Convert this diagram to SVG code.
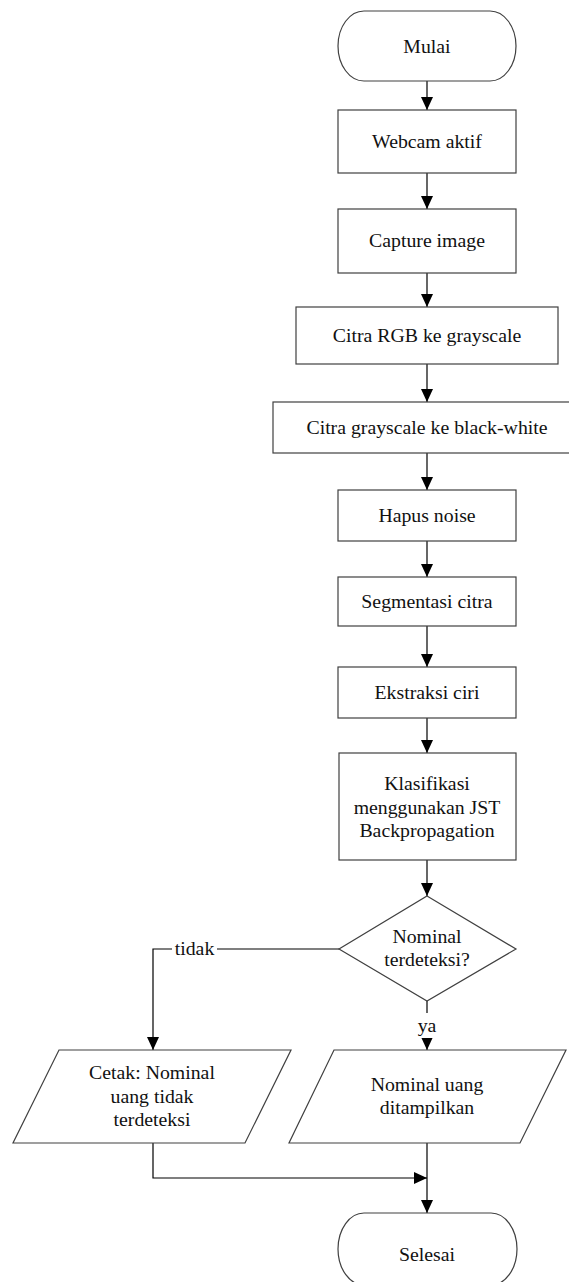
<svg xmlns="http://www.w3.org/2000/svg" width="569" height="1282" viewBox="0 0 569 1282">
<style>
.shape{fill:#fff;stroke:#404040;stroke-width:1.2}
.line{fill:none;stroke:#000;stroke-width:1.2}
text{font-family:"Liberation Serif","Times New Roman",serif;font-size:19.8px;fill:#111;text-anchor:middle}
</style>
<defs>
<marker id="ah" markerUnits="userSpaceOnUse" markerWidth="13" markerHeight="12" refX="13" refY="6" orient="auto">
<path d="M0,0 L13,6 L0,12 z" fill="#000"/>
</marker>
</defs>
<g id="connectors">
<line class="line" x1="427" y1="81" x2="427" y2="110" marker-end="url(#ah)"/>
<line class="line" x1="427" y1="173" x2="427" y2="209" marker-end="url(#ah)"/>
<line class="line" x1="427" y1="273" x2="427" y2="307" marker-end="url(#ah)"/>
<line class="line" x1="427" y1="364" x2="427" y2="402" marker-end="url(#ah)"/>
<line class="line" x1="427" y1="453" x2="427" y2="490" marker-end="url(#ah)"/>
<line class="line" x1="427" y1="541" x2="427" y2="577" marker-end="url(#ah)"/>
<line class="line" x1="427" y1="626" x2="427" y2="667" marker-end="url(#ah)"/>
<line class="line" x1="427" y1="718" x2="427" y2="753" marker-end="url(#ah)"/>
<line class="line" x1="427" y1="860" x2="427" y2="896" marker-end="url(#ah)"/>
<polyline class="line" points="339,949 153,949 153,1050" marker-end="url(#ah)"/>
<line class="line" x1="427" y1="1001" x2="427" y2="1050" marker-end="url(#ah)"/>
<polyline class="line" points="153,1143 153,1178 427,1178" marker-end="url(#ah)"/>
<line class="line" x1="427" y1="1143" x2="427" y2="1213" marker-end="url(#ah)"/>
<rect x="172" y="940" width="45" height="18" fill="#fff"/>
<text x="194.5" y="954.5">tidak</text>
<rect x="415" y="1013" width="24" height="25" fill="#fff"/>
<text x="427" y="1032">ya</text>
</g>
<g id="mulai">
<rect class="shape" x="338" y="11" width="178" height="70" rx="26" ry="35"/>
<text x="427" y="53">Mulai</text>
</g>
<g id="webcam">
<rect class="shape" x="338" y="110" width="178" height="63"/>
<text x="427" y="148">Webcam aktif</text>
</g>
<g id="capture">
<rect class="shape" x="338" y="209" width="178" height="64"/>
<text x="427" y="247">Capture image</text>
</g>
<g id="rgb">
<rect class="shape" x="296" y="307" width="262" height="57"/>
<text x="427" y="342">Citra RGB ke grayscale</text>
</g>
<g id="bw">
<rect class="shape" x="273" y="402" width="308" height="51"/>
<text x="427" y="434">Citra grayscale ke black-white</text>
</g>
<g id="noise">
<rect class="shape" x="338" y="490" width="178" height="51"/>
<text x="427" y="522">Hapus noise</text>
</g>
<g id="segmentasi">
<rect class="shape" x="338" y="577" width="178" height="49"/>
<text x="427" y="608">Segmentasi citra</text>
</g>
<g id="ekstraksi">
<rect class="shape" x="338" y="667" width="178" height="51"/>
<text x="427" y="699">Ekstraksi ciri</text>
</g>
<g id="klasifikasi">
<rect class="shape" x="339" y="753" width="177" height="107"/>
<text x="427" y="790">Klasifikasi</text>
<text x="427" y="814">menggunakan JST</text>
<text x="427" y="837">Backpropagation</text>
</g>
<g id="decision">
<polygon class="shape" points="427,896 516,949 427,1001 339,949"/>
<text x="427" y="943">Nominal</text>
<text x="427" y="966">terdeteksi?</text>
</g>
<g id="out-tidak">
<polygon class="shape" points="59,1050 291,1050 245,1143 13,1143"/>
<text x="152" y="1079">Cetak: Nominal</text>
<text x="152" y="1103">uang tidak</text>
<text x="152" y="1126">terdeteksi</text>
</g>
<g id="out-ya">
<polygon class="shape" points="334,1050 566,1050 520,1143 289,1143"/>
<text x="427" y="1091">Nominal uang</text>
<text x="427" y="1114">ditampilkan</text>
</g>
<g id="selesai">
<rect class="shape" x="338" y="1213" width="179" height="72" rx="26" ry="36"/>
<text x="427" y="1261">Selesai</text>
</g>
</svg>
